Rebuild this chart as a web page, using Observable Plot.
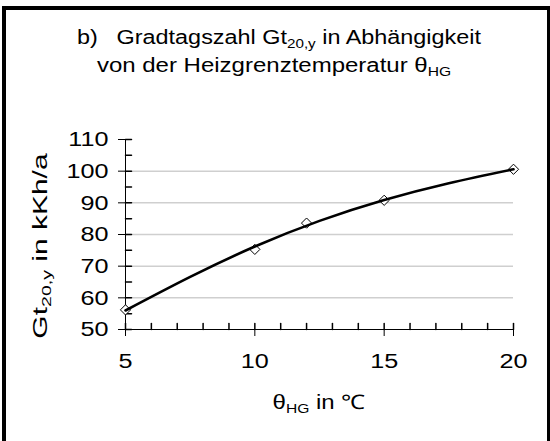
<!DOCTYPE html>
<html><head><meta charset="utf-8">
<script src="https://cdn.jsdelivr.net/npm/d3@7"></script>
<script src="https://cdn.jsdelivr.net/npm/@observablehq/plot@0.6"></script>
<style>
body{margin:0;overflow:hidden;background:#fff;font-family:"Liberation Sans",Arial,sans-serif;color:#000;}
#wrap{position:relative;width:550px;height:441px;overflow:hidden;}
#frame{position:absolute;left:2px;top:6px;width:549px;height:450px;border:4px solid #000;box-sizing:border-box;}
.lbl{position:absolute;white-space:nowrap;transform:translate(-50%,-50%) scaleX(1.2);font-size:20px;line-height:1;}
.sub{font-size:65%;position:relative;top:0.3em;}
#chart{position:absolute;left:0;top:0;}
</style></head>
<body><div id="wrap">
<div id="frame"></div>
<div id="chart"></div>
<div class="lbl" id="t1" style="left:279px;top:37px;transform:translate(-50%,-50%) scaleX(1.17);">b)<span style="display:inline-block;width:16px"></span>Gradtagszahl Gt<span class="sub">20,y</span> in Abhängigkeit</div>
<div class="lbl" id="t2" style="left:274px;top:65px;">von der Heizgrenztemperatur θ<span class="sub">HG</span></div>
<div class="lbl" id="xl" style="left:319px;top:402px;">θ<span class="sub">HG</span> in ℃</div>
<div class="lbl" id="yl" style="left:40px;top:246px;transform:translate(-50%,-50%) rotate(-90deg) scaleX(1.5);">Gt<span class="sub">20,y</span> in kKh/a</div>
</div>
<script>
const xDomain = [5, 20];
const yDomain = [50, 110];
const theta = [5, 10, 12, 15, 20];
const gt = [56.2, 75.3, 83.6, 90.8, 100.6];
const trendTheta = [5, 7.5, 10, 12.5, 15, 17.5, 20];
const trendGt = [56.0, 66.6, 76.2, 84.3, 90.9, 96.2, 100.6];
const yTicks = [50, 60, 70, 80, 90, 100, 110];
const yMinor = [55, 65, 75, 85, 95, 105];
const gridTicks = [60, 70, 80, 90, 100];
const xTicks = [5, 10, 15, 20];
const xMinor = [6, 7, 8, 9, 11, 12, 13, 14, 16, 17, 18, 19];

const points = theta.map((t, i) => ({t, v: gt[i]}));
const trend = trendTheta.map((t, i) => ({t, v: trendGt[i]}));
const tickShape = {draw(ctx, l) { ctx.moveTo(0, 0); ctx.lineTo(0, -l); }};

const chart = Plot.plot({
  width: 550, height: 441,
  marginLeft: 125, marginRight: 37, marginTop: 139, marginBottom: 112,
  x: {domain: xDomain},
  y: {domain: yDomain},
  style: {fontFamily: '"Liberation Sans", Arial, sans-serif', fontSize: "21px", color: "#000", background: "transparent"},
  marks: [
    Plot.gridY(gridTicks, {stroke: "#cfcfcf", strokeOpacity: 1, strokeWidth: 1.5}),
    Plot.axisY(yTicks, {tickSize: 7, tickPadding: 10, label: null, fontSize: 21}),
    Plot.axisX(xTicks, {tickSize: 7, tickPadding: 17, label: null, fontSize: 21}),
    Plot.vector(yTicks.concat(yMinor), {x: () => xDomain[0], y: d => d, length: 6, rotate: 90, anchor: "start", shape: tickShape, stroke: "#000"}),
    Plot.vector(xTicks.concat(xMinor), {x: d => d, y: () => yDomain[0], length: 6, rotate: 0, anchor: "start", shape: tickShape, stroke: "#000"}),
    Plot.ruleX([xDomain[0]], {stroke: "#000"}),
    Plot.ruleY([yDomain[0]], {stroke: "#000"}),
    Plot.dot(points, {x: "t", y: "v", symbol: "diamond2", r: 4.6, fill: "white", stroke: "#000", strokeWidth: 1}),
    Plot.line(trend, {x: "t", y: "v", curve: "natural", stroke: "#000", strokeWidth: 2.6})
  ]
});
document.getElementById("chart").appendChild(chart);

function stretch(selector, sx, mode) {
  chart.querySelectorAll(selector).forEach(t => {
    const g = document.createElementNS("http://www.w3.org/2000/svg", "g");
    t.parentNode.insertBefore(g, t);
    g.appendChild(t);
    const b = g.getBBox();
    const ax = mode === "end" ? b.x + b.width : b.x + b.width / 2;
    g.setAttribute("transform", `translate(${ax},0) scale(${sx},1) translate(${-ax},0)`);
  });
}
stretch('g[aria-label="y-axis tick label"] text', 1.2, "end");
stretch('g[aria-label="x-axis tick label"] text', 1.2, "middle");
</script>
</body></html>
